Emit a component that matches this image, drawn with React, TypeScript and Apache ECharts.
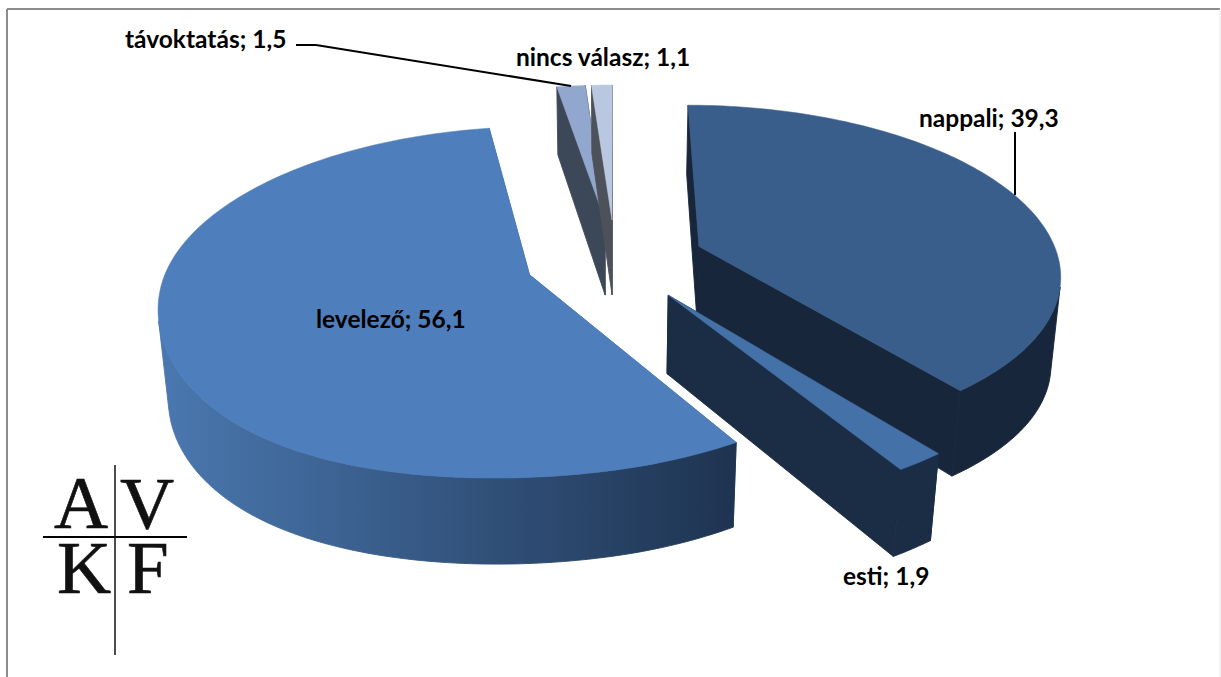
import React, { useEffect, useRef } from "react";
import * as echarts from "echarts";

const categories = ["nappali", "esti", "levelező", "távoktatás", "nincs válasz"];
const values = [39.3, 1.9, 56.1, 1.5, 1.1];
const topColors = ["#395E8B", "#4472A8", "#4E7EBB", "#92A7CE", "#B9C8E0"];
const wallStops: [string, string][] = [
  ["#17263A", "#17263A"],
  ["#1B2D45", "#1B2D45"],
  ["#4A78B0", "#1E3350"],
  ["#3C4858", "#3C4858"],
  ["#4D5159", "#4D5159"],
];
const drawOrder = [3, 4, 0, 1, 2];

const CX = 615, CY = 260, SX = 360, SY = 166.5, K = 0.1515, M = 0.022, H = 78.5, EXPLODE = 0.25;
const SAG = 17, SIDE = 0.06;

function project(X: number, Y: number, z: number): number[] {
  const w = 1 + K * Y + M * z;
  const sag = X < 0 && Y < 0 ? SAG * X * X * Y * Y : 0;
  const side = 1 + SIDE * X * X * X * X;
  return [CX + (SX * X) / w, CY + sag + (-SY * Y + H * side * z) / w];
}

const total = values.reduce((a, b) => a + b, 0);

function signedArea(pts: number[][]): number {
  let s = 0;
  pts.forEach((p, k) => {
    const q = pts[(k + 1) % pts.length];
    s += p[0] * q[1] - q[0] * p[1];
  });
  return s;
}

function renderSlice(params: any) {
  const i = drawOrder[params.dataIndex];
  const before = values.slice(0, i).reduce((a, b) => a + b, 0);
  const a0 = (before / total) * Math.PI * 2;
  const a1 = ((before + values[i]) / total) * Math.PI * 2;
  const mid = (a0 + a1) / 2;
  const ox = Math.sin(mid) * EXPLODE;
  const oy = Math.cos(mid) * EXPLODE;
  const steps = Math.max(4, Math.ceil((a1 - a0) / 0.02));
  const rim: number[][] = [];
  for (let s = 0; s <= steps; s++) {
    const a = a0 + ((a1 - a0) * s) / steps;
    rim.push([ox + Math.sin(a), oy + Math.cos(a)]);
  }
  const at = (p: number[], z: number) => project(p[0], p[1], z);
  const c = [ox, oy];
  const flat = wallStops[i][0];
  const face = (pts: number[][], fill: any, lw = 0.5) => ({
    type: "polygon",
    shape: { points: pts },
    style: { fill, stroke: fill, lineWidth: lw },
  });
  const first = rim[0];
  const last = rim[rim.length - 1];
  const xs = rim.map((p) => at(p, 0)[0]);
  const wallFill = {
    type: "linear",
    global: true,
    x: Math.min(...xs),
    y: 0,
    x2: Math.max(Math.max(...xs), Math.min(...xs) + 1),
    y2: 0,
    colorStops: [
      { offset: 0, color: wallStops[i][0] },
      { offset: 1, color: wallStops[i][1] },
    ],
  };
  // The outer wall folds where it turns away from the viewer: keep only the runs that face the viewer.
  const runs: number[][][] = [];
  let run: number[][] | null = null;
  for (let s = 0; s < steps; s++) {
    const front = signedArea([at(rim[s], 0), at(rim[s + 1], 0), at(rim[s + 1], 1), at(rim[s], 1)]) < 0;
    if (front) {
      if (!run) {
        run = [rim[s]];
        runs.push(run);
      }
      run.push(rim[s + 1]);
    } else {
      run = null;
    }
  }
  const walls = runs.map((r) =>
    face([...r.map((p) => at(p, 0)), ...r.slice().reverse().map((p) => at(p, 1))], wallFill, 0.9)
  );
  return {
    type: "group",
    children: [
      face([at(c, 0), at(first, 0), at(first, 1), at(c, 1)], flat, 0.9),
      face([at(c, 0), at(last, 0), at(last, 1), at(c, 1)], flat, 0.9),
      ...walls,
      face([at(c, 0), ...rim.map((p) => at(p, 0))], topColors[i]),
    ],
  };
}

const labelFont = { fontFamily: "Lato", fontWeight: "bold", fontSize: 24.5, fill: "#000" };
const fmt = (i: number) => `${categories[i]}; ${String(values[i]).replace(".", ",")}`;
const label = (i: number, x: number, y: number) => ({
  type: "text", x, y, z: 50,
  style: { ...labelFont, text: fmt(i), textAlign: "left", textVerticalAlign: "middle" },
});
const logo = (t: string, x: number, y: number) => ({
  type: "text", x, y, z: 50,
  style: { text: t, fontFamily: "Liberation Serif", fontSize: 75, fill: "#111", stroke: "#111", lineWidth: 0.6, textAlign: "left", textVerticalAlign: "bottom" },
});
const ln = (x1: number, y1: number, x2: number, y2: number, stroke: string, lineWidth: number) => ({
  type: "line", z: 50, shape: { x1, y1, x2, y2 }, style: { stroke, lineWidth },
});

export default function App() {
  const ref = useRef<HTMLDivElement>(null);
  useEffect(() => {
    const chart = echarts.init(ref.current!, undefined, { renderer: "svg" });
    chart.setOption({
      animation: false,
      backgroundColor: "#fff",
      series: [
        {
          type: "custom",
          coordinateSystem: "none",
          renderItem: renderSlice,
          data: drawOrder.map((i) => values[i]),
          silent: true,
        },
      ],
      graphic: {
        z: 50,
        elements: [
          ln(7, 9, 1220, 9, "#8C8C8C", 2),
          ln(7, 9, 7, 677, "#8C8C8C", 2),
          ln(1220, 9, 1220, 677, "#E6E6E6", 1),
          ln(296, 45, 316, 45, "#000", 2),
          ln(316, 45, 571, 86, "#000", 2),
          ln(1015, 132, 1015, 195, "#000", 2),
          label(3, 125, 38),
          label(4, 516, 56),
          label(0, 919, 117),
          label(2, 316, 318),
          label(1, 843, 575),
          logo("A", 54, 540),
          logo("V", 120, 541),
          logo("K", 57, 605),
          logo("F", 127, 605),
          ln(43, 537, 187, 537, "#000", 2),
          ln(115, 465, 115, 655, "#111", 1.5),
        ],
      },
    });
    return () => chart.dispose();
  }, []);
  return <div ref={ref} style={{ position: "absolute", left: 0, top: 0, width: 1221, height: 677 }} />;
}
